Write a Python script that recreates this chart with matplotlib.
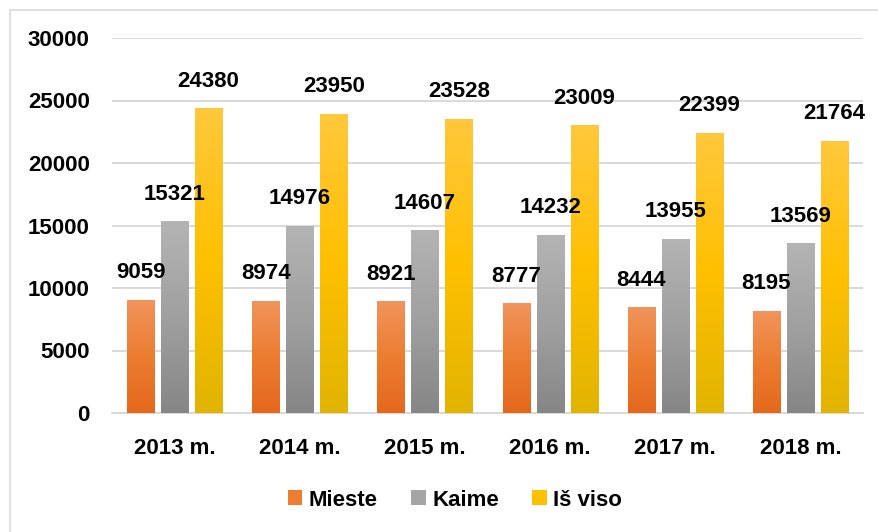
import matplotlib
matplotlib.use("Agg")
import matplotlib.pyplot as plt
import numpy as np
from matplotlib.colors import LinearSegmentedColormap
from matplotlib.patches import Rectangle, Patch

categories = ["2013 m.", "2014 m.", "2015 m.", "2016 m.", "2017 m.", "2018 m."]
mieste = [9059, 8974, 8921, 8777, 8444, 8195]
kaime = [15321, 14976, 14607, 14232, 13955, 13569]
is_viso = [24380, 23950, 23528, 23009, 22399, 21764]
series_names = ["Mieste", "Kaime", "Iš viso"]
yticks = [0, 5000, 10000, 15000, 20000, 25000, 30000]

plt.rcParams['font.family'] = ['Liberation Sans', 'DejaVu Sans']
plt.rcParams['font.weight'] = 'bold'

FS = 16

fig = plt.figure(figsize=(8.79, 5.32), dpi=100)
fig.patch.set_facecolor('white')
# outer chart border (partially visible)
fig.patches.append(Rectangle((10 / 879, -0.1), 1.2, 1 - 10 / 532 + 0.1,
                             transform=fig.transFigure, fill=False,
                             edgecolor='#D9D9D9', linewidth=1.2))

ax = fig.add_axes([112 / 879, 1 - 413 / 532, (863 - 112) / 879, (413 - 38) / 532])

x = np.arange(len(categories))
width = 0.216
pitch = 0.272
grads = [
    [(228 / 255, 104 / 255, 28 / 255), (236 / 255, 125 / 255, 49 / 255), (241 / 255, 148 / 255, 92 / 255)],
    [(134 / 255, 134 / 255, 134 / 255), (160 / 255, 160 / 255, 160 / 255), (180 / 255, 180 / 255, 180 / 255)],
    [(225 / 255, 180 / 255, 0 / 255), (255 / 255, 192 / 255, 0 / 255), (255 / 255, 200 / 255, 60 / 255)],
]
base_colors = ['#ED7D31', '#A5A5A5', '#FFC000']

ax.set_xlim(-0.5, len(categories) - 0.5)
ax.set_ylim(0, 30000)

grad_img = np.linspace(0, 1, 256).reshape(-1, 1)
for i, (vals, g) in enumerate(zip([mieste, kaime, is_viso], grads)):
    cmap = LinearSegmentedColormap.from_list(f"g{i}", g)
    bars = ax.bar(x + (i - 1) * pitch, vals, width=width, color=base_colors[i],
                  edgecolor='none', zorder=3)
    for b, v in zip(bars, vals):
        x0, y0 = b.get_x(), b.get_y()
        w, h = b.get_width(), b.get_height()
        im = ax.imshow(grad_img, cmap=cmap, origin='lower', aspect='auto',
                       extent=[x0, x0 + w, y0, y0 + h], zorder=3.5)
        im.set_clip_path(b)
        ax.annotate(str(v), (x0 + w / 2, y0 + h), xytext=(0, 12),
                    textcoords='offset points', ha='center', va='bottom',
                    fontsize=FS, fontweight='bold', color='black', zorder=5)

ax.set_xlim(-0.5, len(categories) - 0.5)
ax.set_ylim(0, 30000)
ax.set_yticks(yticks)
ax.set_yticklabels([str(t) for t in yticks])
ax.set_xticks(x)
ax.set_xticklabels(categories)
ax.tick_params(axis='both', length=0, labelsize=FS)
ax.tick_params(axis='y', pad=16)
ax.tick_params(axis='x', pad=18)
for lab in ax.get_xticklabels() + ax.get_yticklabels():
    lab.set_fontweight('bold')

ax.grid(axis='y', color='#D9D9D9', linewidth=1.4, zorder=0)
ax.set_axisbelow(True)
for s in ['top', 'right', 'left']:
    ax.spines[s].set_visible(False)
ax.spines['bottom'].set_color('#D9D9D9')
ax.spines['bottom'].set_linewidth(1.4)

handles = [Patch(facecolor=base_colors[i], edgecolor='none') for i in range(3)]
leg = fig.legend(handles, series_names, loc='center', bbox_to_anchor=(455 / 879, 1 - 500 / 532),
                 ncol=3, frameon=False, prop={'size': FS, 'weight': 'bold'},
                 handlelength=0.65, handleheight=0.65, handletextpad=0.3, columnspacing=1.5)

fig.savefig("out.png", dpi=100, facecolor='white')
